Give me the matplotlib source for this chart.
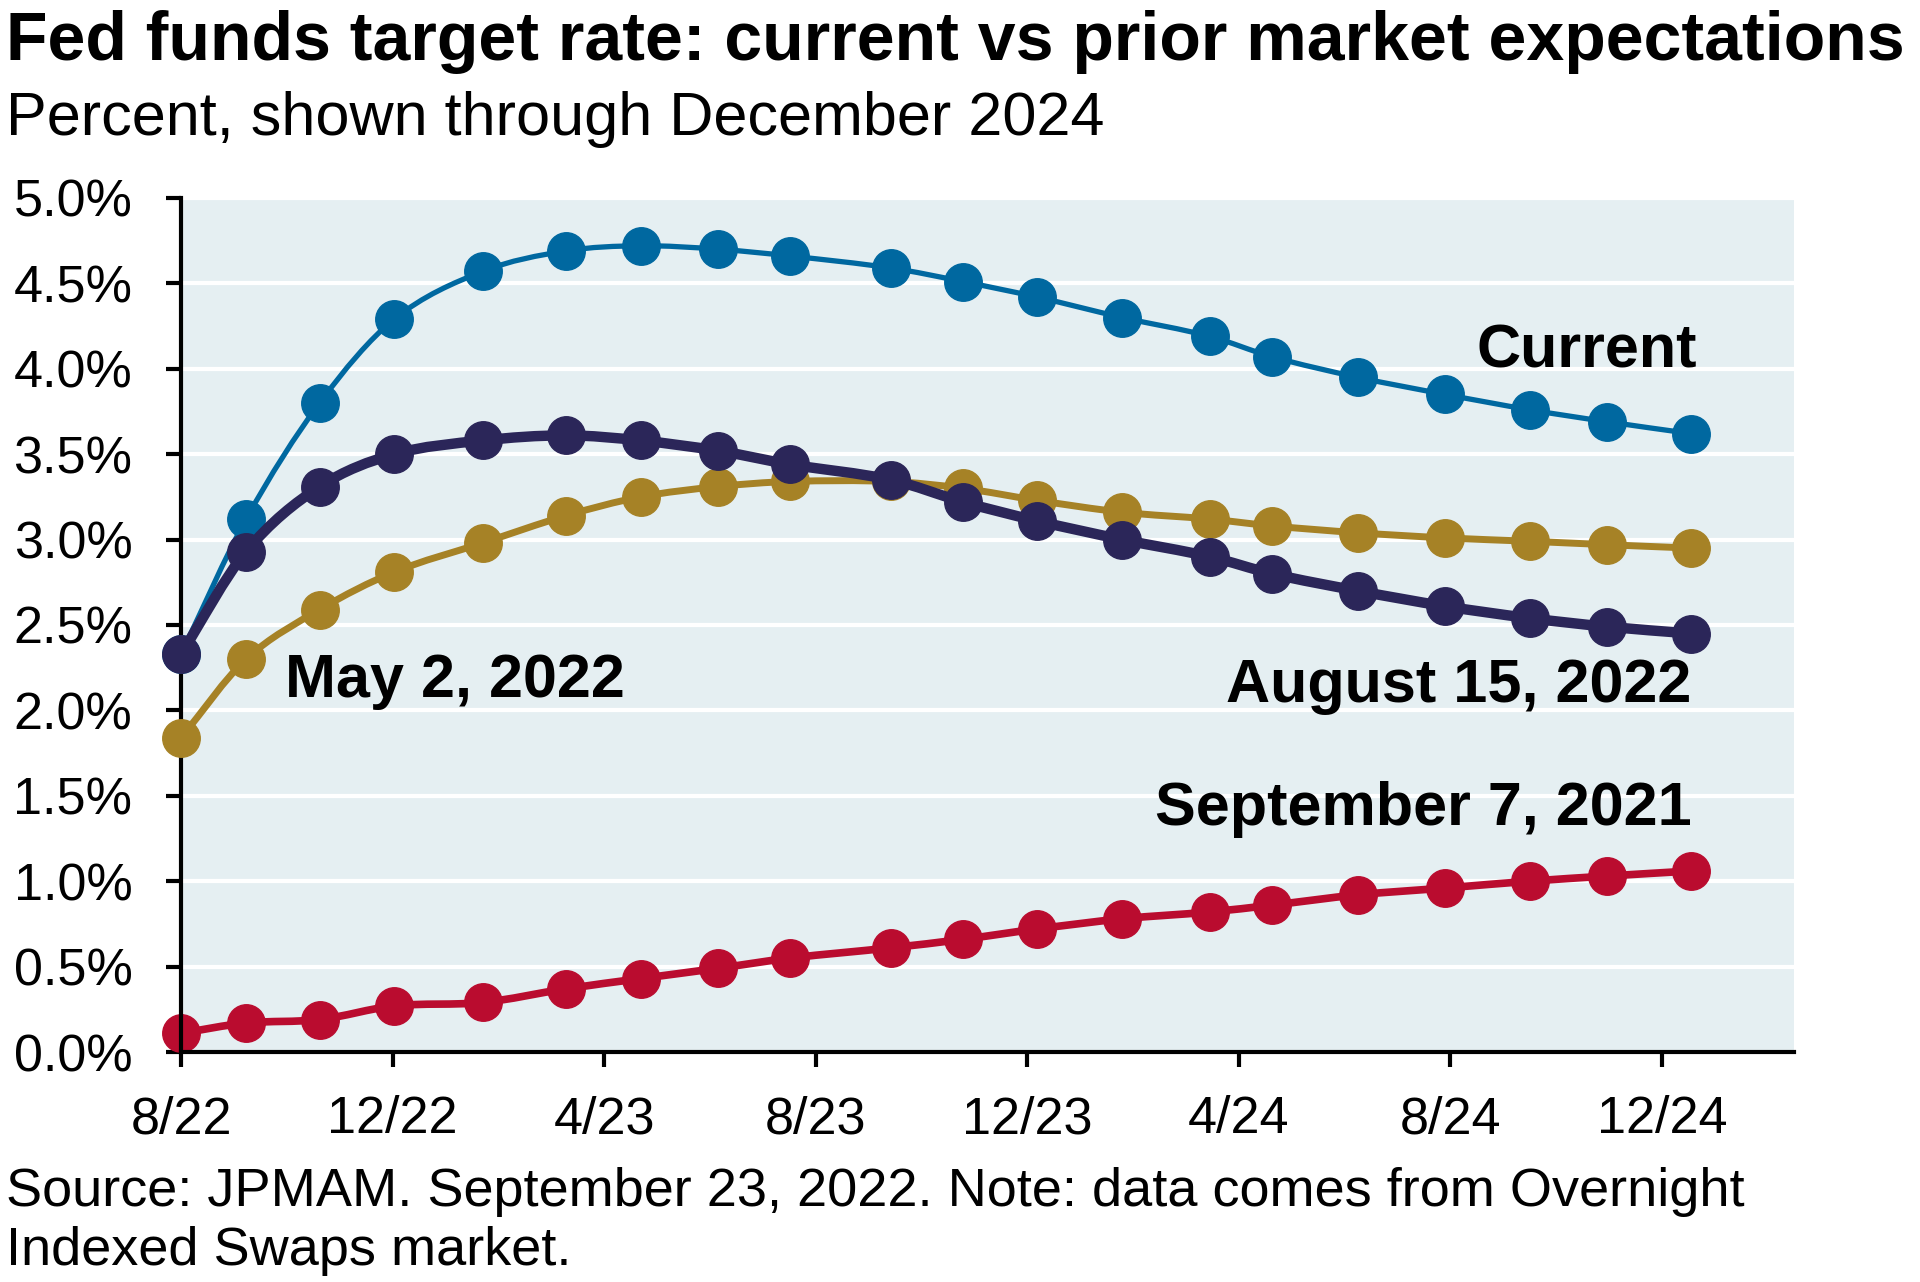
import matplotlib
matplotlib.use("Agg")
import matplotlib.pyplot as plt
from matplotlib.path import Path
from matplotlib.patches import PathPatch
import numpy as np

plt.rcParams['font.family'] = ['Liberation Sans', 'DejaVu Sans']

# months since Aug 2022 for each expectation point
months = [0, 1.23, 2.62, 4.03, 5.70, 7.28, 8.69, 10.15, 11.52, 13.42,
          14.79, 16.18, 17.80, 19.45, 20.63, 22.25, 23.90, 25.50, 26.96, 28.56]

current = [2.33, 3.12, 3.80, 4.29, 4.57, 4.69, 4.72, 4.70, 4.66, 4.59,
           4.51, 4.42, 4.30, 4.19, 4.07, 3.95, 3.85, 3.76, 3.69, 3.62]
aug_2022 = [2.33, 2.93, 3.31, 3.50, 3.58, 3.61, 3.58, 3.52, 3.44, 3.35,
            3.22, 3.11, 3.00, 2.90, 2.80, 2.70, 2.61, 2.54, 2.49, 2.45]
may_2022 = [1.84, 2.30, 2.59, 2.81, 2.98, 3.14, 3.25, 3.31, 3.34, 3.34,
            3.30, 3.23, 3.16, 3.12, 3.08, 3.04, 3.01, 2.99, 2.97, 2.95]
sep_2021 = [0.11, 0.17, 0.19, 0.27, 0.29, 0.37, 0.43, 0.49, 0.55, 0.61,
            0.66, 0.72, 0.78, 0.82, 0.86, 0.92, 0.96, 1.00, 1.03, 1.06]

tick_pos = [0, 4, 8, 12, 16, 20, 24, 28]
tick_labels = ['8/22', '12/22', '4/23', '8/23', '12/23', '4/24', '8/24', '12/24']


def smooth_path(x, y):
    # cubic bezier through the points (smoothed line like the original)
    x = np.asarray(x, float)
    y = np.asarray(y, float)
    n = len(x)
    m = np.empty(n)
    m[1:-1] = (y[2:] - y[:-2]) / (x[2:] - x[:-2])
    m[0] = (y[1] - y[0]) / (x[1] - x[0])
    m[-1] = (y[-1] - y[-2]) / (x[-1] - x[-2])
    verts = [(x[0], y[0])]
    codes = [Path.MOVETO]
    for i in range(n - 1):
        h = (x[i + 1] - x[i]) / 3
        verts += [(x[i] + h, y[i] + h * m[i]),
                  (x[i + 1] - h, y[i + 1] - h * m[i + 1]),
                  (x[i + 1], y[i + 1])]
        codes += [Path.CURVE4] * 3
    return Path(verts, codes)


fig = plt.figure(figsize=(19.2, 12.82), dpi=100)
ax = fig.add_axes([0.0943, 0.1794, 0.8401, 0.6662])
ax.set_facecolor('#e5eff2')

series = [
    (sep_2021, '#ba0c2f', 5.5, 2),
    (may_2022, '#a68226', 5.0, 3),
    (current, '#0068a0', 3.8, 4),
    (aug_2022, '#2b2659', 7.5, 5),
]
for vals, color, lw, z in series:
    ax.add_patch(PathPatch(smooth_path(months, vals), fill=False,
                           edgecolor=color, linewidth=lw, zorder=z,
                           clip_on=False, capstyle='round'))
    ax.plot(months, vals, linestyle='none', marker='o', markersize=27,
            color=color, zorder=z, clip_on=False)

ax.set_xlim(0, 30.5)
ax.set_ylim(0, 5)
ax.set_yticks(np.arange(0, 5.01, 0.5))
ax.set_yticklabels([f'{v:.1f}%' for v in np.arange(0, 5.01, 0.5)])
ax.set_xticks(tick_pos)
ax.set_xticklabels(tick_labels)
ax.yaxis.grid(True, color='white', linewidth=3)
ax.set_axisbelow(True)

for s in ['top', 'right']:
    ax.spines[s].set_visible(False)
for s in ['left', 'bottom']:
    ax.spines[s].set_linewidth(3)
    ax.spines[s].set_color('black')
ax.tick_params(axis='both', length=11, width=3, labelsize=37.5, colors='black')
ax.tick_params(axis='x', pad=20)
ax.tick_params(axis='y', pad=24)

lab = dict(fontsize=44, fontweight='bold', va='center', zorder=6)
ax.text(28.67, 4.10, 'Current', ha='right', **lab)
ax.text(28.56, 2.14, 'August 15, 2022', ha='right', **lab)
ax.text(1.97, 2.17, 'May 2, 2022', ha='left', **lab)
ax.text(28.56, 1.42, 'September 7, 2021', ha='right', **lab)

fig.text(0.003, 1 - 60 / 1282, 'Fed funds target rate: current vs prior market expectations',
         fontsize=49, fontweight='bold', va='baseline', ha='left')
fig.text(0.003, 1 - 135 / 1282, 'Percent, shown through December 2024',
         fontsize=44, va='baseline', ha='left')
fig.text(0.003, 1 - 1206 / 1282,
         'Source: JPMAM. September 23, 2022. Note: data comes from Overnight',
         fontsize=39, va='baseline', ha='left')
fig.text(0.003, 1 - 1265 / 1282, 'Indexed Swaps market.',
         fontsize=39, va='baseline', ha='left')

fig.savefig('out.png', dpi=100)
